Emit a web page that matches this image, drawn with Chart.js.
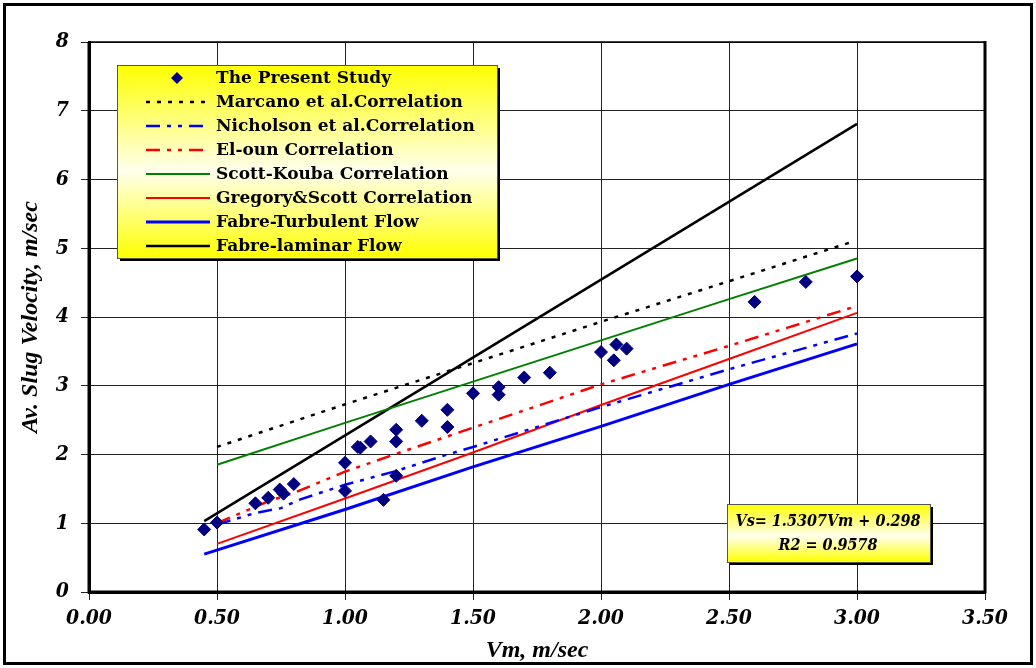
<!DOCTYPE html>
<html>
<head>
<meta charset="utf-8">
<title>Slug velocity</title>
<script src="https://cdn.jsdelivr.net/npm/chart.js@4.4.1/dist/chart.umd.min.js"></script>
<style>
    html, body { margin: 0; padding: 0; background: #fff; }
    #wrap { width: 1036px; height: 668px; position: relative; }
</style>
</head>
<body>
<div id="wrap"><canvas id="slugChart" width="1036" height="668"></canvas></div>
<script>
// measured points - the present study
var study_vm = [0.45, 0.50, 0.65, 0.70, 0.745, 0.76, 0.80, 1.00, 1.00, 1.05, 1.06, 1.10, 1.15, 1.20, 1.20, 1.20,
    1.30, 1.40, 1.40, 1.50, 1.60, 1.60, 1.70, 1.80, 2.00, 2.05, 2.06, 2.10, 2.60, 2.80, 3.00];
var study_vs = [0.91, 1.01, 1.29, 1.37, 1.49, 1.43, 1.57, 1.88, 1.47, 2.11, 2.10, 2.19, 1.34, 2.36, 2.19, 1.69,
    2.49, 2.65, 2.40, 2.89, 2.98, 2.87, 3.12, 3.19, 3.49, 3.37, 3.60, 3.54, 4.22, 4.51, 4.59];

// correlations
var marcano_vm = [0.5, 1.0, 1.5, 2.0, 2.5, 2.97];
var marcano_vs = [2.11, 2.73, 3.33, 3.93, 4.52, 5.08];

var nicholson_vm = [0.5, 0.65, 0.75, 0.82, 1.0, 1.2, 1.4, 1.5, 2.0, 2.5, 3.0];
var nicholson_vs = [0.98, 1.15, 1.22, 1.34, 1.56, 1.76, 2.00, 2.11, 2.69, 3.24, 3.76];

var eloun_vm = [0.5, 0.7, 0.8, 1.0, 1.2, 1.5, 2.0, 2.5, 3.0];
var eloun_vs = [1.00, 1.32, 1.44, 1.75, 2.01, 2.39, 3.02, 3.58, 4.16];

var scott_vm = [0.5, 1.0, 1.5, 2.0, 2.5, 3.0];
var scott_vs = [1.85, 2.46, 3.06, 3.66, 4.26, 4.85];

var gregory_vm = [0.5, 1.0, 1.5, 2.0, 2.5, 3.0];
var gregory_vs = [0.70, 1.36, 2.03, 2.72, 3.39, 4.06];

var turb_vm = [0.45, 1.0, 1.5, 2.0, 2.5, 3.0];
var turb_vs = [0.55, 1.20, 1.82, 2.41, 3.02, 3.61];

var lam_vm = [0.45, 3.0];
var lam_vs = [1.03, 6.81];

var x_ticks = [0, 0.5, 1.0, 1.5, 2.0, 2.5, 3.0, 3.5];
var y_ticks = [0, 1, 2, 3, 4, 5, 6, 7, 8];

var fit_text = ["Vs= 1.5307Vm + 0.298", "R2 = 0.9578"];

var condSerif = "'DejaVu Serif Condensed', 'DejaVu Serif', serif";

function pairs(xs, ys) {
    return xs.map(function(x, i) { return {x: x, y: ys[i]}; });
}

function lineSet(label, xs, ys, color, width, dash) {
    return {
        label: label,
        data: pairs(xs, ys),
        showLine: true,
        borderColor: color,
        backgroundColor: color,
        borderWidth: width,
        borderDash: dash,
        pointRadius: 0,
        tension: 0
    };
}

var datasets = [
    {
        label: "The Present Study",
        data: pairs(study_vm, study_vs),
        showLine: false,
        pointStyle: "rectRot",
        pointRadius: 6.5,
        backgroundColor: "#000080",
        borderColor: "#000080",
        borderWidth: 1
    },
    lineSet("Marcano et al.Correlation", marcano_vm, marcano_vs, "#000000", 2.5, [4, 7]),
    lineSet("Nicholson et al.Correlation", nicholson_vm, nicholson_vs, "#0000ff", 2.5, [14, 7, 4, 7, 4, 7]),
    lineSet("El-oun Correlation", eloun_vm, eloun_vs, "#ff0000", 2.5, [14, 7, 4, 7, 4, 7]),
    lineSet("Scott-Kouba Correlation", scott_vm, scott_vs, "#008000", 2, []),
    lineSet("Gregory&Scott Correlation", gregory_vm, gregory_vs, "#ff0000", 2, []),
    lineSet("Fabre-Turbulent Flow", turb_vm, turb_vs, "#0000ff", 3, []),
    lineSet("Fabre-laminar Flow", lam_vm, lam_vs, "#000000", 2.5, [])
];

function yellowBox(ctx, x, y, w, h) {
    ctx.save();
    ctx.fillStyle = "#000000";
    ctx.fillRect(x + 3, y + 3, w, h);
    var g = ctx.createLinearGradient(0, y, 0, y + h);
    g.addColorStop(0, "#ffff00");
    g.addColorStop(0.55, "#ffffee");
    g.addColorStop(1, "#ffff00");
    ctx.fillStyle = g;
    ctx.fillRect(x, y, w, h);
    ctx.strokeStyle = "#555555";
    ctx.lineWidth = 1;
    ctx.strokeRect(x + 0.5, y + 0.5, w, h);
    ctx.restore();
}

// frame, legend box and trend-line box
var decorPlugin = {
    id: "decor",
    afterDatasetsDraw: function(chart) {
        var ctx = chart.ctx;
        var a = chart.chartArea;
        ctx.save();
        ctx.strokeStyle = "#000";
        ctx.lineWidth = 1.5;
        ctx.beginPath();
        ctx.moveTo(a.left, a.top);
        ctx.lineTo(a.right, a.top);
        ctx.stroke();
        ctx.lineWidth = 3;
        ctx.beginPath();
        ctx.moveTo(a.left, a.top);
        ctx.lineTo(a.left, a.bottom);
        ctx.lineTo(a.right, a.bottom);
        ctx.lineTo(a.right, a.top - 1);
        ctx.stroke();
        ctx.restore();

        // legend
        var lx = 117, ly = 65, lw = 380, lh = 193;
        yellowBox(ctx, lx, ly, lw, lh);
        ctx.save();
        ctx.font = "bold 17px 'DejaVu Serif'";
        ctx.textBaseline = "middle";
        chart.data.datasets.forEach(function(ds, i) {
            var ry = ly + 13 + i * 24;
            if (ds.showLine) {
                ctx.strokeStyle = ds.borderColor;
                ctx.lineWidth = ds.borderWidth;
                ctx.setLineDash(ds.borderDash);
                ctx.beginPath();
                ctx.moveTo(146, ry);
                ctx.lineTo(210, ry);
                ctx.stroke();
                ctx.setLineDash([]);
            } else {
                ctx.fillStyle = ds.backgroundColor;
                ctx.beginPath();
                ctx.moveTo(177, ry - 6);
                ctx.lineTo(183, ry);
                ctx.lineTo(177, ry + 6);
                ctx.lineTo(171, ry);
                ctx.closePath();
                ctx.fill();
            }
            ctx.fillStyle = "#000";
            ctx.fillText(ds.label, 216, ry + 1);
        });
        ctx.restore();

        // equation box
        yellowBox(ctx, 727, 504, 203, 58);
        ctx.save();
        ctx.font = "bold italic 16px " + condSerif;
        ctx.fillStyle = "#000";
        ctx.textAlign = "center";
        ctx.textBaseline = "middle";
        ctx.fillText(fit_text[0], 828, 522);
        ctx.fillText(fit_text[1], 828, 546);
        ctx.restore();

        // outer frame
        ctx.save();
        ctx.strokeStyle = "#000";
        ctx.lineWidth = 3;
        ctx.strokeRect(4.5, 4.5, 1027, 659);
        ctx.restore();
    }
};

var tickFont = { family: condSerif, size: 21, weight: "bold", style: "italic" };
var titleFont = { family: "'Liberation Serif'", size: 24, weight: "bold", style: "italic" };

new Chart(document.getElementById("slugChart"), {
    type: "scatter",
    data: { datasets: datasets },
    options: {
        responsive: false,
        animation: false,
        layout: { padding: { left: 0, top: 42, right: 51, bottom: 0 } },
        plugins: {
            legend: { display: false },
            tooltip: { enabled: false }
        },
        scales: {
            x: {
                type: "linear",
                min: 0,
                max: 3.5,
                afterBuildTicks: function(scale) {
                    scale.ticks = x_ticks.map(function(v) { return {value: v}; });
                },
                afterFit: function(scale) { scale.height = 76; },
                ticks: {
                    color: "#000",
                    font: tickFont,
                    padding: 6,
                    maxRotation: 0,
                    callback: function(v) { return v.toFixed(2); }
                },
                grid: { color: "#222", lineWidth: 1, tickLength: 8 },
                border: { color: "#000", width: 3 },
                title: {
                    display: true,
                    text: "Vm, m/sec",
                    color: "#000",
                    font: titleFont,
                    padding: { top: 0, bottom: 3 }
                }
            },
            y: {
                type: "linear",
                min: 0,
                max: 8,
                afterBuildTicks: function(scale) {
                    scale.ticks = y_ticks.map(function(v) { return {value: v}; });
                },
                afterFit: function(scale) { scale.width = 89; },
                ticks: {
                    color: "#000",
                    font: tickFont,
                    padding: 12
                },
                grid: { color: "#222", lineWidth: 1, tickLength: 8 },
                border: { color: "#000", width: 3 },
                title: {
                    display: true,
                    text: "Av. Slug Velocity, m/sec",
                    color: "#000",
                    font: titleFont,
                    padding: { top: 16, bottom: 0 }
                }
            }
        }
    },
    plugins: [decorPlugin]
});
</script>
</body>
</html>
